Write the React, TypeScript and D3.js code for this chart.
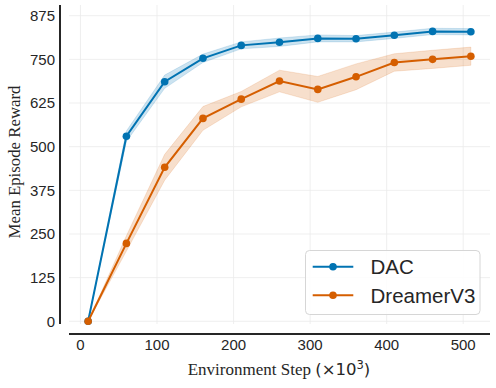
import React from "react";
import * as d3 from "d3";

// environment steps (x10^3)
const steps = [10, 60, 110, 160, 210, 260, 310, 360, 410, 460, 510];

const dacMean = [0, 530, 686, 753, 790, 799, 810, 809, 819, 830, 829];
const dacStd = [0, 15, 19, 12, 10, 12, 10, 9, 9, 9, 9];

const dreamerMean = [0, 223, 441, 581, 636, 688, 664, 700, 741, 750, 759];
const dreamerStd = [0, 22, 37, 34, 22, 31, 37, 37, 25, 26, 26];

const yTicks = [0, 125, 250, 375, 500, 625, 750, 875];
const xTicks = [0, 100, 200, 300, 400, 500];

const seriesNames = ["DAC", "DreamerV3"];
const seriesColors = ["#0173b2", "#d55e00"];

const W = 496;
const H = 388;

export default function App() {
  const x = d3.scaleLinear().domain([-15, 535]).range([69, 490]);
  const y = d3.scaleLinear().domain([-7.7, 905.6]).range([324, 5]);

  const series = [
    { name: seriesNames[0], color: seriesColors[0], mean: dacMean, std: dacStd },
    { name: seriesNames[1], color: seriesColors[1], mean: dreamerMean, std: dreamerStd },
  ];

  const line = d3
    .line<number>()
    .x((_, i) => x(steps[i]))
    .y((d) => y(d));

  const band = (mean: number[], std: number[]) =>
    d3
      .area<number>()
      .x((_, i) => x(steps[i]))
      .y0((d, i) => y(d - std[i]))
      .y1((d, i) => y(d + std[i]))(mean);

  const sans = "'Liberation Sans', Arial, sans-serif";
  const serif = "'Liberation Serif', 'Times New Roman', serif";
  const [x0, x1] = x.range();
  const [yb, yt] = y.range();

  return (
    <svg
      width={W}
      height={H}
      style={{ position: "absolute", left: 0, top: 0, background: "white" }}
    >
      {/* grid */}
      <g stroke="#ebebeb" strokeWidth={0.8}>
        {yTicks.map((t) => (
          <line key={"gy" + t} x1={x0} x2={x1} y1={y(t)} y2={y(t)} />
        ))}
        {xTicks.map((t) => (
          <line key={"gx" + t} x1={x(t)} x2={x(t)} y1={yt} y2={yb} />
        ))}
      </g>

      {/* bands then lines */}
      {series.map((s) => (
        <path key={"b" + s.name} d={band(s.mean, s.std) || ""} fill={s.color} fillOpacity={0.2} stroke={s.color} strokeOpacity={0.15} strokeWidth={1} />
      ))}
      {series.map((s) => (
        <g key={"l" + s.name}>
          <path d={line(s.mean) || ""} fill="none" stroke={s.color} strokeWidth={2} />
          {s.mean.map((v, i) => (
            <circle key={i} cx={x(steps[i])} cy={y(v)} r={3.8} fill={s.color} />
          ))}
        </g>
      ))}

      {/* spines (offset) */}
      <line x1={60} x2={60} y1={yt} y2={yb} stroke="#262626" strokeWidth={2} />
      <line x1={x0} x2={x1} y1={334} y2={334} stroke="#262626" strokeWidth={2} />

      {/* y tick labels */}
      {yTicks.map((t) => (
        <text key={"ty" + t} x={55} y={y(t)} dy="0.35em" textAnchor="end" fontFamily={sans} fontSize={15} fill="#262626">
          {t}
        </text>
      ))}
      {/* x tick labels */}
      {xTicks.map((t) => (
        <text key={"tx" + t} x={x(t)} y={350} textAnchor="middle" fontFamily={sans} fontSize={15} fill="#262626">
          {t}
        </text>
      ))}

      {/* axis labels */}
      <text
        transform={`translate(20,162) rotate(-90)`}
        textAnchor="middle"
        fontFamily={serif}
        fontSize={16.8}
        fill="#262626"
      >
        Mean Episode Reward
      </text>
      <text x={279} y={375} textAnchor="middle" fontFamily={serif} fontSize={17} fill="#262626">
        Environment Step{" "}
        <tspan fontFamily="'DejaVu Sans', sans-serif" fontSize={16.5}>
          (×10
          <tspan fontSize={11.5} dy={-6.5}>3</tspan>
          <tspan dy={6.5}>)</tspan>
        </tspan>
      </text>

      {/* legend */}
      <g>
        <rect x={305.5} y={250.5} width={174.5} height={64} rx={4} fill="white" fillOpacity={0.85} stroke="#d6d6d6" strokeWidth={1} />
        {series.map((s, i) => {
          const ly = 266.7 + i * 28.5;
          return (
            <g key={"lg" + s.name}>
              <line x1={312.7} x2={353.3} y1={ly} y2={ly} stroke={s.color} strokeWidth={2} />
              <circle cx={333} cy={ly} r={3.8} fill={s.color} />
              <text x={370.5} y={ly} dy="0.36em" fontFamily={sans} fontSize={20.5} fill="#262626">
                {s.name}
              </text>
            </g>
          );
        })}
      </g>
    </svg>
  );
}
